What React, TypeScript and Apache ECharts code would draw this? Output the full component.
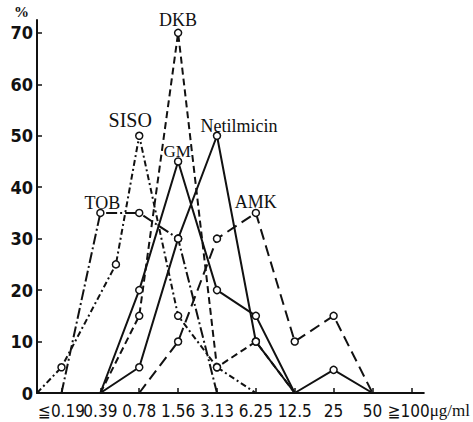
import React, { useEffect, useRef } from "react";
import * as echarts from "echarts";

// x-axis categories (MIC, µg/ml)
const categories = ["≦0.19", "0.39", "0.78", "1.56", "3.13", "6.25", "12.5", "25", "50", "≧100"];
const unit = "μg/ml";
const yTickValues = [0, 10, 20, 30, 40, 50, 60, 70];
const xTickValues = [0, 1, 2, 3, 4, 5, 6, 7, 8, 9];

// Series: x = category index (fractional where the original plots between columns), y = %
const tobX = [0, 1, 2, 3, 4];
const tobY = [0, 35, 35, 30, 0];
const sisoX = [-0.63, 0, 1.4, 2, 3, 4, 5];
const sisoY = [0, 5, 25, 50, 15, 5, 0];
const dkbX = [1, 2, 3, 4, 5, 6];
const dkbY = [0, 15, 70, 5, 10, 0];
const gmX = [1, 2, 3, 4, 5, 6];
const gmY = [0, 20, 45, 20, 15, 0];
const netX = [1, 2, 3, 4, 5, 6, 7, 8];
const netY = [0, 5, 30, 50, 10, 0, 4.5, 0];
const amkX = [2, 3, 4, 5, 6, 7, 8];
const amkY = [0, 10, 30, 35, 10, 15, 0];

const INK = "#111";
const SERIF = "'Liberation Serif', 'DejaVu Serif', serif";
const NARROW = "'Liberation Sans Narrow', 'DejaVu Sans Condensed', 'Noto Sans CJK JP', sans-serif";

type Def = {
  name: string;
  xs: number[];
  ys: number[];
  dash: number[] | "solid";
  labelIdx: number;
  labelDist: number;
  labelOffset: [number, number];
  labelSize: number;
};

const defs: Def[] = [
  { name: "TOB", xs: tobX, ys: tobY, dash: [11, 3, 2, 3], labelIdx: 1, labelDist: 0, labelOffset: [2, 3], labelSize: 18 },
  { name: "SISO", xs: sisoX, ys: sisoY, dash: [6, 3, 2, 3], labelIdx: 3, labelDist: 3, labelOffset: [-9, 1], labelSize: 20 },
  { name: "DKB", xs: dkbX, ys: dkbY, dash: [7, 4], labelIdx: 2, labelDist: 0, labelOffset: [0, 0], labelSize: 18 },
  { name: "GM", xs: gmX, ys: gmY, dash: "solid", labelIdx: 2, labelDist: 0, labelOffset: [-1, 3], labelSize: 17 },
  { name: "Netilmicin", xs: netX, ys: netY, dash: "solid", labelIdx: 3, labelDist: 0, labelOffset: [22, 3], labelSize: 18 },
  { name: "AMK", xs: amkX, ys: amkY, dash: [11, 6], labelIdx: 3, labelDist: 0, labelOffset: [0, 2], labelSize: 18 },
];

const labelStyle = {
  margin: 9,
  fontSize: 17,
  fontFamily: NARROW,
  color: INK,
  showMinLabel: true,
  showMaxLabel: true,
  rich: {
    p: { width: 35 },
    u: { fontSize: 17, fontFamily: SERIF, color: INK },
  },
  formatter: (v: number) => {
    const i = Math.round(v);
    const c = categories[i] ?? "";
    return i === categories.length - 1 ? "{p|}" + c + "{u|" + unit + "}" : c;
  },
};

export default function App() {
  const ref = useRef<HTMLDivElement>(null);

  useEffect(() => {
    if (!ref.current) return;
    const chart = echarts.init(ref.current, undefined, { renderer: "svg" });

    const series = defs.map((d) => ({
      type: "line",
      name: d.name,
      silent: true,
      z: 3,
      xAxisIndex: 0,
      lineStyle: { color: INK, width: 2, type: d.dash },
      itemStyle: { color: "#fff", borderColor: INK, borderWidth: 1.5 },
      symbolSize: 7,
      data: d.xs.map((x, i) => {
        const item: any = {
          value: [x, d.ys[i]],
          symbol: d.ys[i] === 0 ? "none" : "circle",
        };
        if (i === d.labelIdx) {
          item.label = {
            show: true,
            formatter: d.name,
            position: "top",
            distance: d.labelDist,
            offset: d.labelOffset,
            fontSize: d.labelSize,
            fontFamily: SERIF,
            color: INK,
          };
        }
        return item;
      }),
    }));

    const evenVals = xTickValues.filter((v) => v % 2 === 0);
    const oddVals = xTickValues.filter((v) => v % 2 === 1);

    chart.setOption({
      animation: false,
      backgroundColor: "#fff",
      grid: { left: 37, right: 48, top: 20, bottom: 29, containLabel: false },
      xAxis: [
        {
          type: "value",
          min: -0.63,
          max: 9.32,
          axisLine: { show: true, onZero: false, lineStyle: { color: INK, width: 2 } },
          axisTick: {
            show: true,
            inside: true,
            length: 5,
            customValues: xTickValues,
            lineStyle: { color: INK, width: 1.5 },
          },
          axisLabel: { ...labelStyle, customValues: evenVals },
          splitLine: { show: false },
        },
        {
          type: "value",
          position: "bottom",
          min: -0.63,
          max: 9.32,
          axisLine: { show: false, onZero: false },
          axisTick: { show: false },
          axisLabel: { ...labelStyle, customValues: oddVals },
          splitLine: { show: false },
        },
      ],
      yAxis: {
        type: "value",
        min: 0,
        max: 72.5,
        axisLine: { show: true, onZero: false, lineStyle: { color: INK, width: 2 } },
        axisTick: {
          show: true,
          inside: true,
          length: 5,
          customValues: yTickValues,
          lineStyle: { color: INK, width: 1.5 },
        },
        axisLabel: {
          customValues: yTickValues,
          showMinLabel: true,
          showMaxLabel: true,
          margin: 4,
          fontSize: 18,
          fontWeight: "bold",
          fontFamily: NARROW,
          color: INK,
        },
        splitLine: { show: false },
      },
      graphic: [
        {
          type: "text",
          left: 14,
          top: 4,
          style: { text: "%", fontSize: 15, fontFamily: SERIF, fill: INK, fontWeight: "bold" },
        },
      ],
      series,
    });

    return () => chart.dispose();
  }, []);

  return (
    <div
      ref={ref}
      style={{ position: "fixed", left: 0, top: 0, width: 473, height: 422, background: "#fff" }}
    />
  );
}
